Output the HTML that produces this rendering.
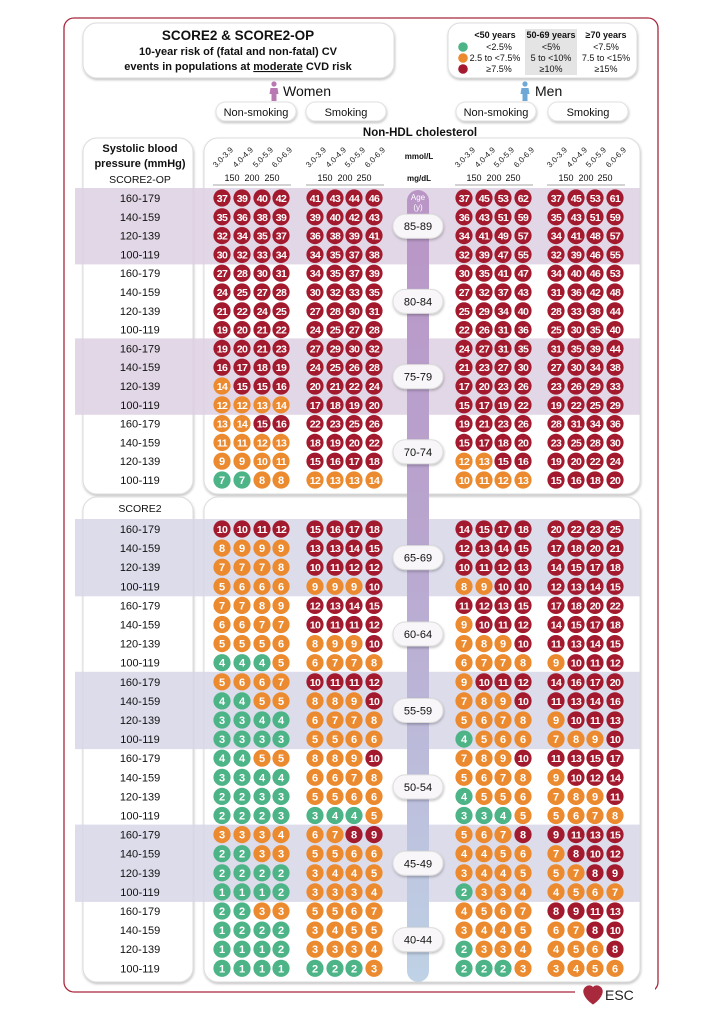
<!DOCTYPE html>
<html><head><meta charset="utf-8"><style>
html,body{margin:0;padding:0;background:#fff}
svg{display:block}
text{font-family:"Liberation Sans",sans-serif}
</style></head><body>
<svg id="s" width="712" height="1016" viewBox="0 0 712 1016" xmlns="http://www.w3.org/2000/svg">
<defs>
<linearGradient id="ag" x1="0" y1="0" x2="0" y2="1">
<stop offset="0" stop-color="#b995c6"/><stop offset="0.45" stop-color="#b9a6cf"/><stop offset="1" stop-color="#bfd2e6"/>
</linearGradient>
<filter id="sh" x="-20%" y="-20%" width="140%" height="140%"><feDropShadow dx="0.5" dy="1.5" stdDeviation="1.2" flood-color="#000" flood-opacity="0.25"/></filter>
</defs>
<rect x="64" y="18" width="594" height="974" rx="10" fill="none" stroke="#a8283c" stroke-width="1.3"/>
<rect x="575" y="985" width="80" height="16" fill="#fff"/>
<g id="g"></g>
</svg>
<script>
const NS="http://www.w3.org/2000/svg",g=document.getElementById('g');
function el(t,a,txt){const e=document.createElementNS(NS,t);for(const k in a)e.setAttribute(k,a[k]);if(txt!==undefined)e.textContent=txt;g.appendChild(e);return e;}
function tx(x,y,s,o){o=o||{};return el('text',Object.assign({x:x,y:y,'text-anchor':o.a||'middle','font-size':o.fs||12,'font-weight':o.fw||'normal',fill:o.fill||'#111'},o.extra||{}),s);}
// header boxes
el('rect',{x:83,y:23,width:311,height:55,rx:14,fill:'#fff',stroke:'#ddd',filter:'url(#sh)'});
tx(238,40,'SCORE2 & SCORE2-OP',{fs:13.5,fw:'bold'});
tx(238,55,'10-year risk of (fatal and non-fatal) CV',{fs:11,fw:'bold'});
const t3=tx(238,70,'',{fs:11,fw:'bold'});
t3.innerHTML='events in populations at <tspan text-decoration="underline">moderate</tspan> CVD risk';
el('rect',{x:448,y:23,width:189,height:55,rx:12,fill:'#fff',stroke:'#ddd',filter:'url(#sh)'});
el('rect',{x:525,y:29,width:52,height:46,fill:'#e4e4e4'});
[['<50 years','<2.5%','2.5 to <7.5%','≥7.5%',495],['50-69 years','<5%','5 to <10%','≥10%',551],['≥70 years','<7.5%','7.5 to <15%','≥15%',606]].forEach(c=>{
tx(c[4],38,c[0],{fs:9,fw:'bold'});tx(c[4]+(c[4]==495?4:0),50,c[1],{fs:9});tx(c[4],61,c[2],{fs:9});tx(c[4]+(c[4]==495?4:0),72,c[3],{fs:9});});
[['#4db487',47],['#ec8a2f',58],['#a31a2e',69]].forEach(d=>el('circle',{cx:463,cy:d[1],r:4.8,fill:d[0]}));
// Women/Men
function person(x,y,c){el('circle',{cx:x,cy:y-9,r:2.6,fill:c});el('path',{d:`M${x-3.5} ${y-5} h7 l1 6 h-2 v7 h-5 v-7 h-2z`,fill:c});}
person(274,93,'#b879b3');tx(283,96,'Women',{fs:14,a:'start'});
person(525,93,'#6ea8d6');tx(535,96,'Men',{fs:14,a:'start'});
[[216,'Non-smoking'],[306,'Smoking'],[456,'Non-smoking'],[548,'Smoking']].forEach(p=>{
el('rect',{x:p[0],y:102,width:80,height:19,rx:9.5,fill:'#fff',stroke:'#e2e2e2',filter:'url(#sh)'});tx(p[0]+40,116,p[1],{fs:11});});
tx(420,136,'Non-HDL cholesterol',{fs:11.5,fw:'bold'});
// panels
[[138,494],[497,982]].forEach(p=>{
el('rect',{x:83,y:p[0],width:110,height:p[1]-p[0],rx:14,fill:'#fff',stroke:'#ddd',filter:'url(#sh)'});
el('rect',{x:204,y:p[0],width:436,height:p[1]-p[0],rx:14,fill:'#fff',stroke:'#ddd',filter:'url(#sh)'});});
tx(140,152,'Systolic blood',{fs:11,fw:'bold'});tx(140,167,'pressure (mmHg)',{fs:11,fw:'bold'});tx(140,183,'SCORE2-OP',{fs:10.5});
tx(140,512,'SCORE2',{fs:10.5});
const cols=[[222,242,262,281],[315,335,354,374],[464,484,503,523],[556,576,595,615]];
cols.forEach(c=>{['3.0-3.9','4.0-4.9','5.0-5.9','6.0-6.9'].forEach((l,i)=>{
el('text',{x:c[i]-6,y:168,'font-size':8,fill:'#222',transform:`rotate(-45 ${c[i]-6} 168)`},l);});
tx(c[0]+10,181,'150',{fs:9});tx(c[1]+10,181,'200',{fs:9});tx(c[2]+10,181,'250',{fs:9});
el('line',{x1:c[0]-9,y1:185,x2:c[3]+10,y2:185,stroke:'#888','stroke-width':0.8});});
tx(419,159,'mmol/L',{fs:8,fw:'bold'});tx(419,181,'mg/dL',{fs:8,fw:'bold'});
// data
const D={
'85-89':[[37,39,40,42,35,36,38,39,32,34,35,37,30,32,33,34],[41,43,44,46,39,40,42,43,36,38,39,41,34,35,37,38],[37,45,53,62,36,43,51,59,34,41,49,57,32,39,47,55],[37,45,53,61,35,43,51,59,34,41,48,57,32,39,46,55]],
'80-84':[[27,28,30,31,24,25,27,28,21,22,24,25,19,20,21,22],[34,35,37,39,30,32,33,35,27,28,30,31,24,25,27,28],[30,35,41,47,27,32,37,43,25,29,34,40,22,26,31,36],[34,40,46,53,31,36,42,48,28,33,38,44,25,30,35,40]],
'75-79':[[19,20,21,23,16,17,18,19,14,15,15,16,12,12,13,14],[27,29,30,32,24,25,26,28,20,21,22,24,17,18,19,20],[24,27,31,35,21,23,27,30,17,20,23,26,15,17,19,22],[31,35,39,44,27,30,34,38,23,26,29,33,19,22,25,29]],
'70-74':[[13,14,15,16,11,11,12,13,9,9,10,11,7,7,8,8],[22,23,25,26,18,19,20,22,15,16,17,18,12,13,13,14],[19,21,23,26,15,17,18,20,12,13,15,16,10,11,12,13],[28,31,34,36,23,25,28,30,19,20,22,24,15,16,18,20]],
'65-69':[[10,10,11,12,8,9,9,9,7,7,7,8,5,6,6,6],[15,16,17,18,13,13,14,15,10,11,12,12,9,9,9,10],[14,15,17,18,12,13,14,15,10,11,12,13,8,9,10,10],[20,22,23,25,17,18,20,21,14,15,17,18,12,13,14,15]],
'60-64':[[7,7,8,9,6,6,7,7,5,5,5,6,4,4,4,5],[12,13,14,15,10,11,11,12,8,9,9,10,6,7,7,8],[11,12,13,15,9,10,11,12,7,8,9,10,6,7,7,8],[17,18,20,22,14,15,17,18,11,13,14,15,9,10,11,12]],
'55-59':[[5,6,6,7,4,4,5,5,3,3,4,4,3,3,3,3],[10,11,11,12,8,8,9,10,6,7,7,8,5,5,6,6],[9,10,11,12,7,8,9,10,5,6,7,8,4,5,6,6],[14,16,17,20,11,13,14,16,9,10,11,13,7,8,9,10]],
'50-54':[[4,4,5,5,3,3,4,4,2,2,3,3,2,2,2,3],[8,8,9,10,6,6,7,8,5,5,6,6,3,4,4,5],[7,8,9,10,5,6,7,8,4,5,5,6,3,3,4,5],[11,13,15,17,9,10,12,14,7,8,9,11,5,6,7,8]],
'45-49':[[3,3,3,4,2,2,3,3,2,2,2,2,1,1,1,2],[6,7,8,9,5,5,6,6,3,4,4,5,3,3,3,4],[5,6,7,8,4,4,5,6,3,4,4,5,2,3,3,4],[9,11,13,15,7,8,10,12,5,7,8,9,4,5,6,7]],
'40-44':[[2,2,3,3,1,2,2,2,1,1,1,2,1,1,1,1],[5,5,6,7,3,4,5,5,3,3,3,4,2,2,2,3],[4,5,6,7,3,4,4,5,2,3,3,4,2,2,2,3],[8,9,11,13,6,7,8,10,4,5,6,8,3,4,5,6]]};
const ages=Object.keys(D);
function rowY(k){return k<16?198+k*18.8:529+(k-16)*19.1;}
// bands
[[0,'#ddd0e2'],[2,'#ddd0e2'],[4,'#d6d6e8'],[6,'#d6d6e8'],[8,'#d6d6e8']].forEach(b=>{
const y0=rowY(b[0]*4)-10,y1=rowY(b[0]*4+3)+10;el('rect',{x:75,y:y0,width:565,height:y1-y0,fill:b[1],opacity:0.85});});
// age bar
el('rect',{x:407,y:190,width:22,height:792,rx:11,fill:'url(#ag)'});
tx(418,200,'Age',{fs:8,fill:'#fff'});tx(418,210,'(y)',{fs:8,fill:'#fff'});
const th=a=>{const n=parseInt(a);return n<50?[2.5,7.5]:n<70?[5,10]:[7.5,15];};
ages.forEach((a,gi)=>{
const t=th(a);
for(let r=0;r<4;r++){const k=gi*4+r,y=rowY(k);
tx(140,y+4,['160-179','140-159','120-139','100-119'][r],{fs:11});
for(let s=0;s<4;s++)for(let c=0;c<4;c++){const v=D[a][s][r*4+c];const col=v<t[0]?'#4db487':v<t[1]?'#ec8a2f':'#a31a2e';
el('circle',{cx:cols[s][c],cy:y,r:8.6,fill:col});
tx(cols[s][c],y+4,String(v),{fs:v>9?10.5:11,fw:'bold',fill:'#fff',extra:{'letter-spacing':v>9?'-0.6':'0'}});}}
const cy=(rowY(gi*4)+rowY(gi*4+3))/2;
el('rect',{x:393,y:cy-12,width:50,height:24,rx:12,fill:'#f8f6f8',stroke:'#ddd',filter:'url(#sh)'});
tx(418,cy+4,a,{fs:11});});
// ESC
el('path',{d:'M593 1004 C583 997 582 990 586 987 C589 985 592 986 593 988 C594 986 597 985 600 987 C604 990 603 997 593 1004Z',fill:'#a8283c',stroke:'#a8283c'});
tx(605,1000,'ESC',{fs:14,a:'start',fill:'#222'});
</script>
</body></html>
